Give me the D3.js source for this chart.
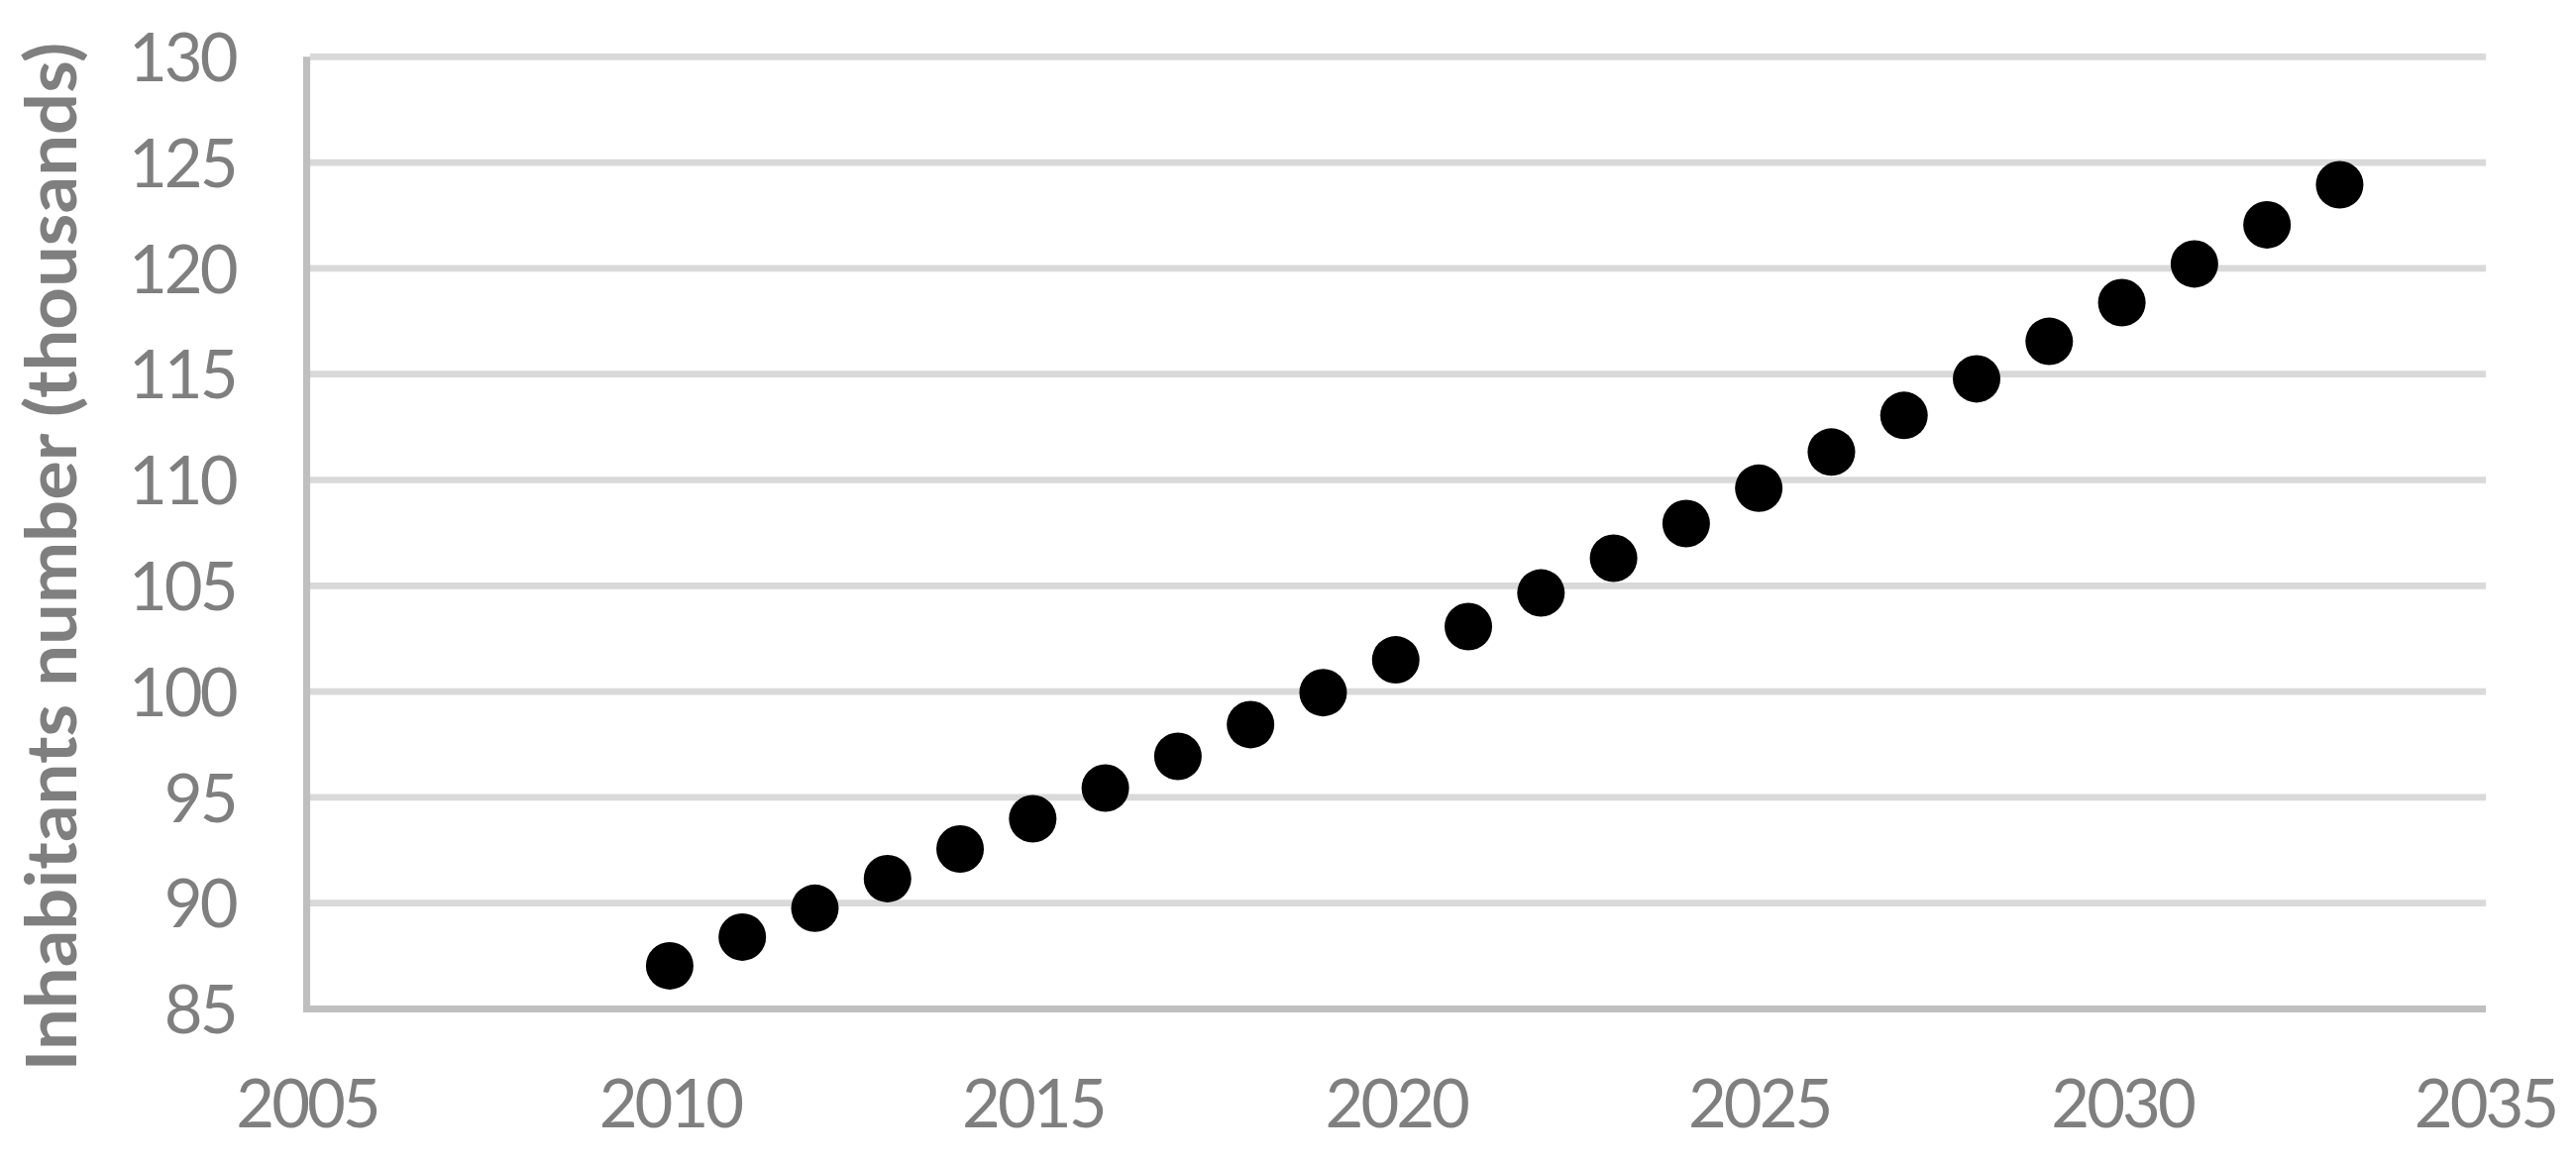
<!DOCTYPE html>
<html>
<head>
<meta charset="utf-8">
<script src="https://cdn.jsdelivr.net/npm/d3@7"></script>
<style>
  html, body { margin: 0; padding: 0; background: #ffffff; }
  svg { display: block; }
</style>
</head>
<body>
<svg id="chart" width="2600" height="1175"></svg>
<script>
// ---- data ----
const years = [2010, 2011, 2012, 2013, 2014, 2015, 2016, 2017, 2018, 2019, 2020, 2021,
               2022, 2023, 2024, 2025, 2026, 2027, 2028, 2029, 2030, 2031, 2032, 2033];
const inhabitants = [87.04, 88.40, 89.76, 91.16, 92.56, 93.99, 95.44, 96.94, 98.44, 99.95, 101.50, 103.07,
                     104.66, 106.30, 107.94, 109.61, 111.32, 113.05, 114.78, 116.55, 118.38, 120.21, 122.06, 123.95];
const xTicks = [2005, 2010, 2015, 2020, 2025, 2030, 2035];
const yTicks = [85, 90, 95, 100, 105, 110, 115, 120, 125, 130];
const yTitle = "Inhabitants number (thousands)";

// ---- layout ----
const svg = d3.select("#chart");
const x = d3.scaleLinear().domain([2005, 2035]).range([309.5, 2508]);
const y = d3.scaleLinear().domain([85, 130]).range([1018.5, 57.3]);

const FONT = "Lato, 'Open Sans', 'Liberation Sans', sans-serif";
const GRAY_TEXT = "#7f7f7f";

// gridlines
svg.append("g")
  .selectAll("line")
  .data(yTicks.filter(d => d !== 85))
  .join("line")
  .attr("x1", x(2005) + 3.5)
  .attr("x2", 2509)
  .attr("y1", d => y(d))
  .attr("y2", d => y(d))
  .attr("stroke", "#d9d9d9")
  .attr("stroke-width", 6.7);

// Y axis
const yAxis = svg.append("g")
  .attr("transform", `translate(${x(2005)},0)`)
  .call(d3.axisLeft(y).tickValues(yTicks).tickSize(0).tickPadding(72).tickFormat(d3.format("d")));
yAxis.select(".domain").remove();
yAxis.selectAll("text")
  .attr("fill", GRAY_TEXT)
  .attr("font-family", FONT)
  .attr("font-size", 67)
  .attr("letter-spacing", "-3px")
  .attr("dy", "0.36em");

// X axis
const xAxis = svg.append("g")
  .attr("transform", `translate(0,${y(85)})`)
  .call(d3.axisBottom(x).tickValues(xTicks).tickSize(0).tickPadding(72).tickFormat(d3.format("d")));
xAxis.select(".domain").remove();
xAxis.selectAll("text")
  .attr("fill", GRAY_TEXT)
  .attr("font-family", FONT)
  .attr("font-size", 67)
  .attr("letter-spacing", "-3px");

// axis lines
svg.append("line")
  .attr("x1", x(2005)).attr("x2", x(2005))
  .attr("y1", y(130)).attr("y2", y(85) + 3.5)
  .attr("stroke", "#bfbfbf").attr("stroke-width", 7.2);
svg.append("line")
  .attr("x1", x(2005) - 3.5).attr("x2", 2509)
  .attr("y1", y(85)).attr("y2", y(85))
  .attr("stroke", "#bfbfbf").attr("stroke-width", 7);

// points
svg.append("g")
  .selectAll("circle")
  .data(years.map((yr, i) => ({ yr, v: inhabitants[i] })))
  .join("circle")
  .attr("cx", d => x(d.yr))
  .attr("cy", d => y(d.v))
  .attr("r", 24)
  .attr("fill", "#000000");

// Y title
svg.append("text")
  .attr("transform", "translate(77,562) rotate(-90)")
  .attr("text-anchor", "middle")
  .attr("font-family", FONT)
  .attr("font-weight", "bold")
  .attr("font-size", 71)
  .attr("fill", GRAY_TEXT)
  .attr("textLength", 1039)
  .attr("lengthAdjust", "spacingAndGlyphs")
  .text(yTitle);
</script>
</body>
</html>
